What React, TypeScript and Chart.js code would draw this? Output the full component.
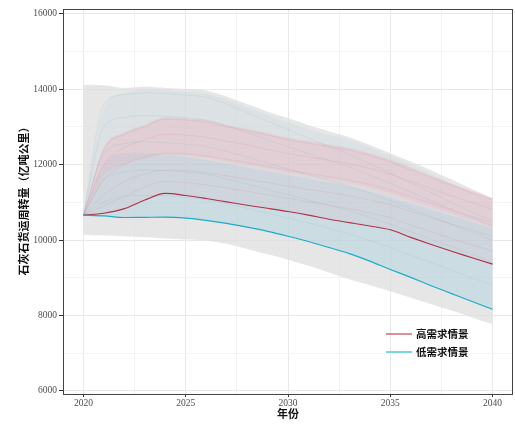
import React, { useEffect, useRef } from "react";
import { Chart, registerables } from "chart.js";

Chart.register(...registerables);

const years = [2020, 2021, 2022, 2023, 2024, 2025, 2026, 2027, 2028, 2029, 2030, 2031, 2032, 2033, 2034, 2035, 2036, 2037, 2038, 2039, 2040];

const highMain = [10660, 10710, 10830, 11060, 11235, 11180, 11100, 11010, 10920, 10840, 10756, 10660, 10550, 10460, 10370, 10270, 10070, 9880, 9700, 9530, 9360];
const lowMain = [10660, 10640, 10595, 10600, 10605, 10580, 10520, 10440, 10340, 10230, 10100, 9960, 9800, 9640, 9440, 9220, 9010, 8790, 8580, 8370, 8165];

const envelopeUpper = [14110, 14100, 14030, 14060, 14030, 14000, 13960, 13800, 13600, 13400, 13230, 13040, 12880, 12720, 12520, 12300, 12080, 11850, 11600, 11350, 11100];
const envelopeLower = [10140, 10120, 10100, 10070, 10040, 10010, 9990, 9900, 9760, 9620, 9480, 9320, 9140, 8960, 8800, 8640, 8470, 8300, 8130, 7950, 7770];

const highBandUpper = [10660, 12450, 12850, 13050, 13250, 13220, 13180, 13050, 12950, 12830, 12710, 12620, 12530, 12440, 12300, 12130, 11920, 11700, 11490, 11300, 11110];
const highCoreLower = [10660, 11700, 12000, 12150, 12250, 12230, 12180, 12080, 11990, 11890, 11790, 11700, 11610, 11520, 11390, 11240, 11060, 10880, 10700, 10520, 10340];
const lowBandUpper = [10660, 13500, 13900, 13980, 13960, 13920, 13880, 13720, 13520, 13320, 13120, 12940, 12790, 12650, 12460, 12230, 12000, 11760, 11500, 11250, 11000];
const lowCoreUpper = [10660, 12000, 12300, 12300, 12250, 12200, 12120, 12020, 11920, 11820, 11720, 11620, 11520, 11420, 11280, 11120, 10960, 10800, 10640, 10480, 10320];

const highRuns = [
  [10660, 12400, 12800, 13000, 13200, 13180, 13120, 13000, 12900, 12780, 12660, 12560, 12470, 12380, 12240, 12070, 11860, 11650, 11440, 11250, 11060],
  [10660, 12000, 12450, 12650, 12800, 12780, 12720, 12620, 12520, 12400, 12290, 12200, 12110, 12020, 11890, 11740, 11550, 11360, 11170, 10990, 10810],
  [10660, 11600, 12000, 12200, 12300, 12290, 12230, 12140, 12050, 11950, 11850, 11760, 11680, 11590, 11470, 11330, 11150, 10970, 10790, 10620, 10450],
  [10660, 11200, 11550, 11750, 11850, 11840, 11780, 11700, 11610, 11520, 11430, 11340, 11260, 11170, 11060, 10930, 10760, 10590, 10420, 10260, 10100],
  [10660, 10900, 11150, 11400, 11550, 11520, 11460, 11380, 11290, 11200, 11110, 11010, 10920, 10830, 10720, 10590, 10400, 10220, 10040, 9870, 9700],
];

const lowRuns = [
  [10660, 13600, 13850, 13900, 13880, 13840, 13780, 13600, 13380, 13150, 12920, 12700, 12480, 12260, 12020, 11770, 11510, 11250, 10990, 10740, 10500],
  [10660, 13000, 13250, 13300, 13280, 13240, 13180, 13030, 12850, 12660, 12470, 12290, 12110, 11930, 11720, 11500, 11270, 11040, 10810, 10590, 10370],
  [10660, 12300, 12550, 12600, 12580, 12540, 12480, 12350, 12200, 12040, 11880, 11730, 11580, 11420, 11240, 11040, 10830, 10620, 10410, 10200, 10000],
  [10660, 11600, 11800, 11850, 11840, 11800, 11740, 11620, 11480, 11340, 11200, 11060, 10920, 10770, 10600, 10420, 10220, 10020, 9820, 9620, 9420],
  [10660, 11000, 11150, 11180, 11170, 11130, 11070, 10960, 10840, 10710, 10580, 10450, 10310, 10160, 9990, 9800, 9600, 9400, 9200, 9000, 8800],
];

const yTicks = [6000, 7000, 8000, 9000, 10000, 11000, 12000, 13000, 14000, 15000, 16000];
const xTicks = [2020, 2022.5, 2025, 2027.5, 2030, 2032.5, 2035, 2037.5, 2040];

const legendLabels = ["高需求情景", "低需求情景"];
const xTitle = "年份";
const yTitle = "石灰石货运周转量（亿吨公里）";

const RED = "#b3304a";
const CYAN = "#18adc9";

const pts = (arr: number[]) => arr.map((v, i) => ({ x: years[i], y: v }));

export default function App() {
  const ref = useRef<HTMLCanvasElement | null>(null);

  useEffect(() => {
    document.body.style.margin = "0";
    const canvas = ref.current;
    if (!canvas) return;

    const base = {
      pointRadius: 0,
      pointHoverRadius: 0,
      cubicInterpolationMode: "monotone" as const,
    };
    const hidden = { borderWidth: 0, borderColor: "rgba(0,0,0,0)" };

    const datasets: any[] = [
      { ...base, ...hidden, data: pts(envelopeUpper), fill: 1, backgroundColor: "rgba(220,220,220,0.72)" },
      { ...base, ...hidden, data: pts(envelopeLower), fill: false },
      { ...base, ...hidden, data: pts(lowBandUpper), fill: 3, backgroundColor: "rgba(160,200,218,0.15)" },
      { ...base, ...hidden, data: pts(lowMain), fill: false },
      { ...base, ...hidden, data: pts(lowCoreUpper), fill: 5, backgroundColor: "rgba(150,205,225,0.26)" },
      { ...base, ...hidden, data: pts(lowMain), fill: false },
      { ...base, ...hidden, data: pts(highBandUpper), fill: 7, backgroundColor: "rgba(232,160,176,0.14)" },
      { ...base, ...hidden, data: pts(highMain), fill: false },
      { ...base, ...hidden, data: pts(highBandUpper), fill: 9, backgroundColor: "rgba(235,165,182,0.2)" },
      { ...base, ...hidden, data: pts(highCoreLower), fill: false },
    ];
    lowRuns.forEach((r) => datasets.push({ ...base, data: pts(r), borderWidth: 0.6, borderColor: "rgba(125,175,200,0.3)", fill: false }));
    highRuns.forEach((r) => datasets.push({ ...base, data: pts(r), borderWidth: 0.6, borderColor: "rgba(215,130,150,0.3)", fill: false }));
    datasets.push({ ...base, data: pts(highMain), borderWidth: 1.15, borderColor: RED, fill: false });
    datasets.push({ ...base, data: pts(lowMain), borderWidth: 1.15, borderColor: CYAN, fill: false });
    datasets.forEach((d, i) => {
      d.order = datasets.length - i;
    });

    const decor = {
      id: "decor",
      afterDraw(chart: any) {
        const { ctx, chartArea } = chart;
        const { left, right, top, bottom } = chartArea;
        ctx.save();
        ctx.strokeStyle = "#444";
        ctx.lineWidth = 1;
        ctx.strokeRect(left + 0.5, top + 0.5, right - left - 1, bottom - top);
        const items = [
          { label: legendLabels[0], color: "rgba(200,80,100,0.85)" },
          { label: legendLabels[1], color: "rgba(50,185,212,0.85)" },
        ];
        ctx.font = "bold 10.5px 'Noto Sans CJK SC', sans-serif";
        ctx.textBaseline = "middle";
        items.forEach((it, i) => {
          const y = 334 + i * 18;
          ctx.strokeStyle = it.color;
          ctx.lineWidth = 1.5;
          ctx.beginPath();
          ctx.moveTo(386, y);
          ctx.lineTo(412, y);
          ctx.stroke();
          ctx.fillStyle = "#111";
          ctx.textAlign = "left";
          ctx.fillText(it.label, 416, y);
        });
        ctx.fillStyle = "#111";
        ctx.font = "bold 11px 'Noto Sans CJK SC', sans-serif";
        ctx.textAlign = "center";
        ctx.textBaseline = "middle";
        ctx.fillText(xTitle, (left + right) / 2, 414);
        ctx.translate(24, (top + bottom) / 2 - 3);
        ctx.rotate(-Math.PI / 2);
        ctx.fillText(yTitle, 0, 0);
        ctx.restore();
      },
    };

    const chart = new Chart(canvas, {
      type: "line",
      data: { datasets },
      options: {
        animation: false,
        responsive: false,
        maintainAspectRatio: false,
        layout: { padding: { top: 9, right: 2, left: 0, bottom: 0 } },
        plugins: { legend: { display: false }, tooltip: { enabled: false } },
        elements: { line: { tension: 0 } },
        scales: {
          x: {
            type: "linear",
            min: 2019,
            max: 2041,
            afterBuildTicks: (s: any) => {
              s.ticks = xTicks.map((v) => ({ value: v }));
            },
            afterFit: (s: any) => {
              s.height = 30;
            },
            ticks: {
              autoSkip: false,
              maxRotation: 0,
              padding: 1,
              color: "#4d4d4d",
              font: { family: "'Liberation Serif', serif", size: 9.5 },
              callback: (v: any) => (Number(v) % 5 === 0 ? String(v) : ""),
            },
            grid: {
              color: (c: any) => (c.tick && c.tick.value % 5 === 0 ? "#e8e8e8" : "#f3f3f3"),
              tickColor: (c: any) => (c.tick && c.tick.value % 5 === 0 ? "#333" : "rgba(0,0,0,0)"),
              tickLength: 3,
            },
            border: { display: false },
          },
          y: {
            type: "linear",
            min: 5920,
            max: 16120,
            afterBuildTicks: (s: any) => {
              s.ticks = yTicks.map((v) => ({ value: v }));
            },
            afterFit: (s: any) => {
              s.width = 63;
            },
            ticks: {
              autoSkip: false,
              padding: 2,
              color: "#4d4d4d",
              font: { family: "'Liberation Serif', serif", size: 9.5 },
              callback: (v: any) => (Number(v) % 2000 === 0 ? String(v) : ""),
            },
            grid: {
              color: (c: any) => (c.tick && c.tick.value % 2000 === 0 ? "#e8e8e8" : "#f3f3f3"),
              tickColor: (c: any) => (c.tick && c.tick.value % 2000 === 0 ? "#333" : "rgba(0,0,0,0)"),
              tickLength: 4,
            },
            border: { display: false },
          },
        },
      },
      plugins: [decor],
    });

    return () => chart.destroy();
  }, []);

  return (
    <div style={{ width: 515, height: 424 }}>
      <canvas ref={ref} width={515} height={424} style={{ display: "block", width: 515, height: 424 }} />
    </div>
  );
}
